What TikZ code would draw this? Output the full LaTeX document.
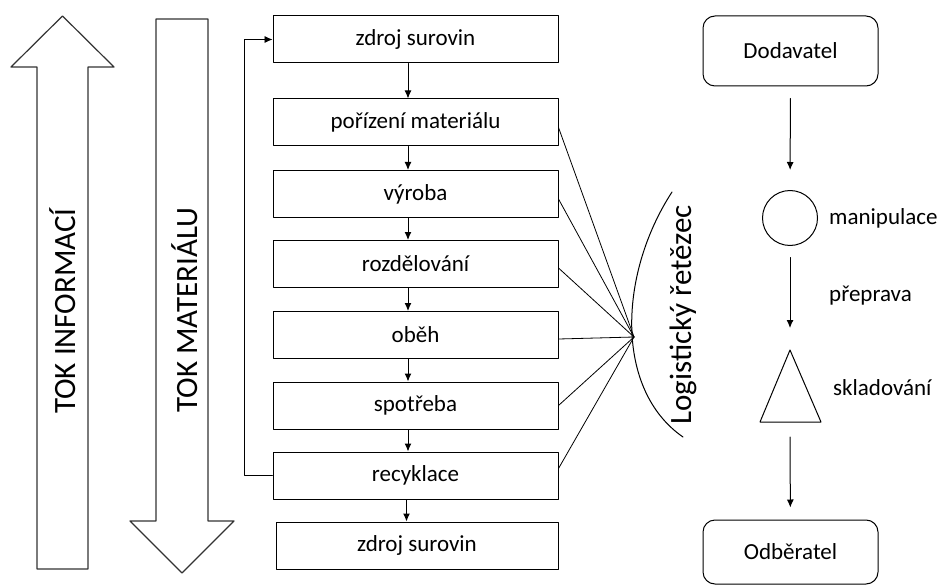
\documentclass[tikz,border=0pt]{standalone}
\usepackage{fontspec}
\setmainfont{Carlito}
\usetikzlibrary{arrows.meta}

\begin{document}
\begin{tikzpicture}[line cap=round,line join=round,x=1pt,y=-1pt,
    stepbox/.style={draw,line width=1pt,minimum width=285pt,minimum height=47pt,inner sep=0pt,font=\fontsize{23}{27}\selectfont},
    endbox/.style={draw,line width=1pt,rounded corners=12pt,minimum width=175pt,inner sep=0pt,font=\fontsize{23}{27}\selectfont},
    sidetext/.style={anchor=west,inner sep=0pt,font=\fontsize{23}{27}\selectfont},
    bigtext/.style={rotate=90,inner sep=0pt,font=\fontsize{31}{36}\selectfont},
    arr/.style={-{Latex[length=8pt,width=7pt]},line width=1pt}]

    \useasboundingbox (0,0) rectangle (939,588);

    % big flow arrows
    \draw [line width=1.2pt,color=black!80] (37,569) -- (37,67) -- (11,67) -- (62.5,16) -- (114,67) -- (88,67) -- (88,569) -- cycle;
    \draw [line width=1.2pt,color=black!80] (156,19) -- (208,19) -- (208,521) -- (234,521) -- (182,573) -- (130,521) -- (156,521) -- cycle;
    \node[bigtext] (tokinf) at (62.5,311) {TOK INFORMACÍ};
    \node[bigtext] (tokmat) at (185,310) {TOK MATERIÁLU};

    % chain of steps
    \node[stepbox] (zdroj) at (415.5,39.5) {zdroj surovin};
    \node[stepbox] (porizeni) at (415.5,122.5) {pořízení materiálu};
    \node[stepbox] (vyroba) at (415.5,194) {výroba};
    \node[stepbox] (rozdel) at (415.5,264) {rozdělování};
    \node[stepbox] (obeh) at (415.5,335) {oběh};
    \node[stepbox] (spotreba) at (415.5,405.5) {spotřeba};
    \node[stepbox] (recyk) at (415.5,475.5) {recyklace};
    \node[stepbox,minimum width=282pt] (zdrojb) at (417,545.5) {zdroj surovin};

    \draw [arr] ([xshift=-7.5pt]zdroj.south) -- ([xshift=-7.5pt]porizeni.north);
    \draw [arr] ([xshift=-7.5pt]porizeni.south) -- ([xshift=-7.5pt]vyroba.north);
    \draw [arr] ([xshift=-7.5pt]vyroba.south) -- ([xshift=-7.5pt]rozdel.north);
    \draw [arr] ([xshift=-7.5pt]rozdel.south) -- ([xshift=-7.5pt]obeh.north);
    \draw [arr] ([xshift=-7.5pt]obeh.south) -- ([xshift=-7.5pt]spotreba.north);
    \draw [arr] ([xshift=-7.5pt]spotreba.south) -- ([xshift=-7.5pt]recyk.north);
    \draw [arr] ([xshift=-9pt]recyk.south) -- ([xshift=-10.5pt]zdrojb.north);

    \draw [arr,line width=0.8pt] (recyk.west) -- ++(-28,0) |- (zdroj.west);

    % logistic chain
    \coordinate (hub) at (634,337);
    \draw [line width=0.8pt] ([yshift=-5pt]porizeni.east) -- (hub);
    \draw [line width=0.8pt] ([yshift=-5pt]vyroba.east) -- (hub);
    \draw [line width=0.8pt] ([yshift=-4pt]rozdel.east) -- (hub);
    \draw [line width=0.8pt] ([yshift=-4pt]obeh.east) -- (hub);
    \draw [line width=0.8pt] (spotreba.east) -- (hub);
    \draw [line width=0.8pt] ([yshift=7pt]recyk.east) -- (hub);
    \draw [line width=1pt] (672,192) .. controls (618,275) and (615,390) .. (683,437);
    \node[bigtext] (chain) at (683,315) {Logistický řetězec};

    % supplier to customer
    \node[endbox,minimum height=70pt] (dod) at (790.5,51) {Dodavatel};
    \node[draw,circle,line width=1pt,minimum size=55pt,inner sep=0pt] (manip) at (790,218) {};
    \coordinate (tritop) at (790,350);
    \coordinate (tribot) at (790,422);
    \draw [line width=1pt] (tritop) -- (821,422) -- (760,422) -- cycle;
    \node[endbox,minimum height=64pt] (odb) at (790.5,552) {Odběratel};

    \node[sidetext] (manlab) at (829,218) {manipulace};
    \node[sidetext] (preplab) at (829,296) {přeprava};
    \node[sidetext] (skladlab) at (833,388) {skladování};

    \draw [arr,shorten <=12pt,shorten >=20pt] (dod) -- (manip);
    \draw [arr,shorten <=11.5pt,shorten >=22pt] (manip) -- (tritop);
    \draw [arr,shorten <=15pt,shorten >=12pt] (tribot) -- (odb);
\end{tikzpicture}
\end{document}
